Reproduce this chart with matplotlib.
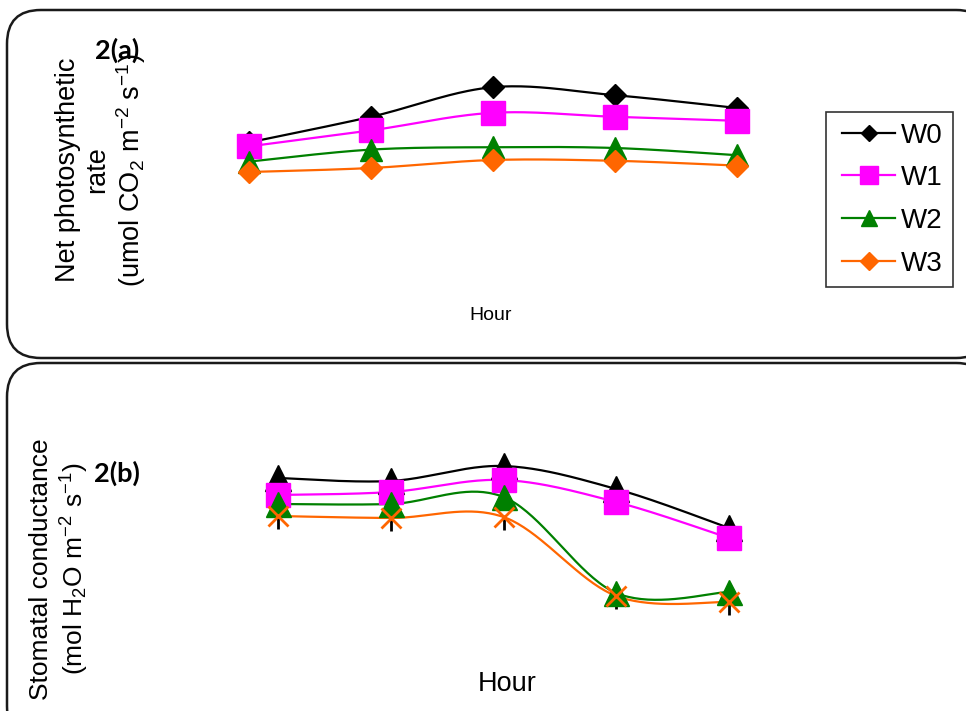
import numpy as np
import matplotlib
matplotlib.use("Agg")
import matplotlib.pyplot as plt
from matplotlib.patches import FancyBboxPatch
from matplotlib.lines import Line2D
from matplotlib.legend_handler import HandlerLine2D

plt.rcParams['font.family'] = ['Liberation Sans', 'DejaVu Sans']
plt.rcParams['mathtext.default'] = 'regular'

# ---- data ----
hours = [1, 2, 3, 4, 5]
series = ["W0", "W1", "W2", "W3"]

# (a) Net photosynthetic rate (arbitrary units, no ticks shown)
a_W0 = [19.7, 22.9, 26.6, 25.6, 24.0]
a_W1 = [19.2, 21.2, 23.4, 22.9, 22.4]
a_W2 = [17.3, 18.8, 19.1, 19.0, 18.1]
a_W3 = [16.0, 16.5, 17.5, 17.4, 16.8]

# (b) Stomatal conductance
b_W0 = [0.384, 0.378, 0.408, 0.362, 0.284]
b_W1 = [0.350, 0.356, 0.380, 0.336, 0.264]
b_W2 = [0.332, 0.332, 0.346, 0.154, 0.156]
b_W3 = [0.308, 0.304, 0.306, 0.148, 0.136]
b_W3_err = [0.025, 0.025, 0.025, 0.025, 0.025]

colors = {"W0": "#000000", "W1": "#FF00FF", "W2": "#008000", "W3": "#FF6600"}


def smooth(xs, ys, n=40):
    """Catmull-Rom style Bezier smoothing (like spreadsheet smoothed lines)."""
    P = np.column_stack([xs, ys]).astype(float)
    Pext = np.vstack([P[0], P, P[-1]])
    out = []
    for i in range(len(P) - 1):
        p0, p1, p2, p3 = Pext[i], Pext[i + 1], Pext[i + 2], Pext[i + 3]
        c1 = p1 + (p2 - p0) / 6.0
        c2 = p2 - (p3 - p1) / 6.0
        t = np.linspace(0, 1, n)[:, None]
        seg = ((1 - t) ** 3) * p1 + 3 * ((1 - t) ** 2) * t * c1 + 3 * (1 - t) * t ** 2 * c2 + t ** 3 * p2
        out.append(seg if i == 0 else seg[1:])
    out = np.vstack(out)
    return out[:, 0], out[:, 1]


W, H = 966, 711
fig = plt.figure(figsize=(W / 100, H / 100), dpi=100)


def fx(px):
    return px / W


def fy(py):
    return 1 - py / H


# rounded panel boxes
for (x0, y0, x1, y1) in [(7, 10, 990, 358), (7, 363, 990, 740)]:
    box = FancyBboxPatch((fx(x0), fy(y1)), fx(x1) - fx(x0), fy(y0) - fy(y1),
                         boxstyle="round,pad=0,rounding_size=0.035",
                         transform=fig.transFigure, facecolor='white',
                         edgecolor='#1a1a1a', linewidth=1.8, zorder=-5,
                         mutation_aspect=W / H)
    fig.patches.append(box)

# ---- panel (a) ----
ax1 = fig.add_axes([fx(188), fy(300), 610 / W, 240 / H])
ax1.patch.set_alpha(0)
a_data = {"W0": a_W0, "W1": a_W1, "W2": a_W2, "W3": a_W3}
a_markers = {"W0": ("D", 11.5), "W1": ("s", 17), "W2": ("^", 16), "W3": ("D", 11.5)}
for s in series:
    sx, sy = smooth(hours, a_data[s])
    ax1.plot(sx, sy, color=colors[s], lw=1.6, zorder=2)
    m, ms = a_markers[s]
    ax1.plot(hours, a_data[s], linestyle='none', marker=m, markersize=ms,
             color=colors[s], zorder=3)
ax1.set_xlim(0.5, 5.5)
ax1.set_ylim(0, 30)
ax1.axis('off')

# ---- panel (b) ----
ax2 = fig.add_axes([fx(221.6), fy(670), 563.8 / W, 250 / H])
ax2.patch.set_alpha(0)
b_data = {"W0": b_W0, "W1": b_W1, "W2": b_W2, "W3": b_W3}
b_markers = {"W0": ("^", 19), "W1": ("s", 17), "W2": ("^", 18), "W3": ("x", 15)}
ax2.errorbar(hours, b_W3, yerr=[b_W3_err, [0] * len(b_W3)], fmt='none',
             ecolor='black', elinewidth=2, capsize=0, zorder=1)
for s in series:
    sx, sy = smooth(hours, b_data[s])
    ax2.plot(sx, sy, color=colors[s], lw=1.6, zorder=2)
    m, ms = b_markers[s]
    ax2.plot(hours, b_data[s], linestyle='none', marker=m, markersize=ms,
             color=colors[s], markeredgewidth=2 if m == 'x' else 1, zorder=3)
ax2.set_xlim(0.5, 5.5)
ax2.set_ylim(0, 0.5)
ax2.axis('off')

# ---- texts ----
fig.text(fx(117), fy(50), "2(a)", fontsize=19.5, fontweight='bold', family='Lato',
         ha='center', va='center')
fig.text(fx(117), fy(473), "2(b)", fontsize=19.5, fontweight='bold', family='Lato',
         ha='center', va='center')

fig.text(fx(101.5), fy(170), "Net photosynthetic\nrate\n(umol CO$_2$ m$^{-2}$ s$^{-1}$)",
         rotation=90, fontsize=19.5, ha='center', va='center', multialignment='center',
         linespacing=1.17)
fig.text(fx(60), fy(569), "Stomatal conductance\n(mol H$_2$O m$^{-2}$ s$^{-1}$)",
         rotation=90, fontsize=19, ha='center', va='center', multialignment='center',
         linespacing=1.2)

fig.text(fx(491), fy(316), "Hour", fontsize=14, ha='center', va='center')
fig.text(fx(507), fy(684), "Hour", fontsize=19.5, ha='center', va='center')

# ---- legend ----
leg_sizes = {"W0": ("D", 8), "W1": ("s", 13), "W2": ("^", 12), "W3": ("D", 9)}
handles = [Line2D([], [], color=colors[s], lw=1.6, marker=leg_sizes[s][0],
                  markersize=leg_sizes[s][1]) for s in series]
leg = fig.legend(handles, series, loc='upper left',
                 bbox_to_anchor=(fx(826), fy(112)), bbox_transform=fig.transFigure,
                 fontsize=20, frameon=True, fancybox=False, edgecolor='black',
                 handlelength=2.1, handletextpad=0.2, labelspacing=0.6,
                 borderpad=0.38, borderaxespad=0,
                 handler_map={Line2D: HandlerLine2D(xpad=0.2)})
leg.get_frame().set_linewidth(1.2)

fig.savefig("out.png", dpi=100)
